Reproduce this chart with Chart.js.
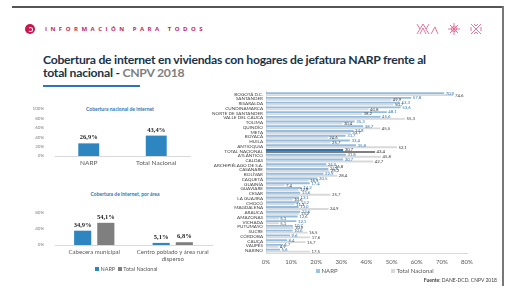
<!DOCTYPE html>
<html lang="es">
<head>
<meta charset="UTF-8">
<title>Cobertura de internet NARP</title>
<script src="https://cdn.jsdelivr.net/npm/chart.js"></script>
<style>
  body { margin: 0; background: #fff; font-family: Lato, "Open Sans", sans-serif; }
  #lienzo { position: relative; width: 521px; height: 294px; overflow: hidden; background: #fff; }
  .abs { position: absolute; }
  #barraTop { left: 12px; top: 6px; width: 491px; height: 2px; background: #555; }
  #bordeDer { left: 502px; top: 6px; width: 1.5px; height: 280px; background: #777; }
  #logo { left: 25px; top: 24px; width: 10px; height: 10px; border-radius: 50%; background: #c8174f; }
  #logo:after { content: ""; position: absolute; left: 2.5px; top: 2.5px; width: 3px; height: 3px; border: 1px solid #fff; border-radius: 50%; border-left-color: transparent; }
  #lema { left: 45px; top: 25px; font-size: 6px; font-weight: bold; letter-spacing: 3.5px; color: #c41e5b; font-family: "Open Sans", sans-serif; white-space: nowrap; }
  #titulo { left: 43px; top: 53px; font-size: 12.2px; letter-spacing: -0.25px; font-weight: bold; color: #1a3348; line-height: 13px; white-space: nowrap; }
  #titulo span { color: #7f7f7f; }
  #subraya { left: 43px; top: 85px; width: 97px; height: 2px; background: #2e75b6; }
  .subt { font-size: 5px; font-weight: bold; color: #2e75b6; white-space: nowrap; transform: translateX(-50%); }
  .leyenda { font-size: 5.5px; color: #595959; white-space: nowrap; }
  .leyenda i { display: inline-block; width: 4px; height: 4px; margin: 0 1.5px 0 0; vertical-align: -0.3px; }
  #fuente { right: 24px; top: 277px; font-size: 5px; color: #404040; white-space: nowrap; }
  canvas { position: absolute; }
</style>
</head>
<body>
<div id="lienzo">
  <div class="abs" id="barraTop"></div>
  <div class="abs" id="bordeDer"></div>
  <div class="abs" id="logo"></div>
  <div class="abs" id="lema">INFORMACIÓN PARA TODOS</div>
  <svg class="abs" style="left:415px;top:23px" width="80" height="12" viewBox="0 0 80 12">
    <g stroke="#d9437a" stroke-width="0.9" fill="none" opacity="0.8">
      <path d="M2 11 L8 1 L14 11 M5 11 L8 5 L11 11 M2 1 L5 6 M14 1 L11 6 M16 11 L20 4 L23 11"/>
      <circle cx="39" cy="6" r="2.5"/>
      <path d="M39 0 V12 M33 6 H45 M35 2 L43 10 M43 2 L35 10"/>
      <path d="M56 1 L66 11 M66 1 L56 11 M59 1 L61 3 L63 1 M59 11 L61 9 L63 11 M56 4 L56 8 M66 4 L66 8"/>
    </g>
  </svg>
  <div class="abs" id="titulo">Cobertura de internet en viviendas con hogares de jefatura NARP frente al<br>total nacional - <span>CNPV 2018</span></div>
  <div class="abs" id="subraya"></div>

  <div class="abs subt" style="left:120px;top:106px">Cobertura nacional de internet</div>
  <canvas id="graficoNacional" width="175" height="70" style="left:30px;top:100px"></canvas>

  <div class="abs subt" style="left:125px;top:191px">Cobertura de internet, por área</div>
  <canvas id="graficoArea" width="190" height="69" style="left:30px;top:198px"></canvas>
  <div class="abs leyenda" style="left:95px;top:266px"><i style="background:#2e86c1"></i>NARP&nbsp;&nbsp;<i style="background:#7f7f7f"></i>Total Nacional</div>

  <canvas id="graficoDeptos" width="290" height="179" style="left:200px;top:86px"></canvas>
  <div class="abs leyenda" style="left:316px;top:267px;font-size:6px"><i style="background:#9dc3e6"></i>NARP</div>
  <div class="abs leyenda" style="left:391px;top:267px;font-size:6px"><i style="background:#d9d9d9"></i>Total Nacional</div>
  <div class="abs" id="fuente"><b>Fuente:</b> DANE-DCD. CNPV 2018</div>
</div>

<script>
    // datos - cobertura nacional
    const nacionalCats = ['NARP', 'Total Nacional'];
    const nacionalVals = [26.9, 43.4];

    // datos - por area
    const areaCats = [['Cabecera municipal'], ['Centro poblado y área rural', 'disperso']];
    const areaNarp = [34.9, 5.1];
    const areaTotal = [54.1, 6.8];

    // datos - departamentos
    const deptos = ['BOGOTÁ D.C.', 'SANTANDER', 'RISARALDA', 'CUNDINAMARCA', 'NORTE DE SANTANDER',
        'VALLE DEL CAUCA', 'TOLIMA', 'QUINDÍO', 'META', 'BOYACÁ', 'HUILA', 'ANTIOQUIA',
        'TOTAL NACIONAL', 'ATLÁNTICO', 'CALDAS', 'ARCHIPIÉLAGO DE S.A.', 'CASANARE', 'BOLÍVAR',
        'CAQUETÁ', 'GUAINÍA', 'GUAVIARE', 'CESAR', 'LA GUAJIRA', 'CHOCÓ', 'MAGDALENA', 'ARAUCA',
        'AMAZONAS', 'VICHADA', 'PUTUMAYO', 'SUCRE', 'CÓRDOBA', 'CAUCA', 'VAUPÉS', 'NARIÑO'];
    const deptosNarp = [70.9, 57.8, 53.3, 53.6, 48.1, 45.6, 35.3, 38.7, 34.8, 31.7, 33.4, 35.8,
        30.7, 31.8, 30.7, 24.0, 24.8, 22.9, 20.5, 17.4, 14.2, 13.6, 13.1, 13.2, 13.0, 13.6,
        12.6, 12.1, 10.7, 10.6, 9.6, 8.4, 6.7, 5.6];
    const deptosTotal = [74.6, 49.9, 50.7, 40.8, 38.2, 55.3, 30.4, 45.5, 33.7, 24.6, 25.7, 52.1,
        43.4, 45.8, 42.7, 26.8, 25.2, 28.4, 16.9, 7.4, 12.9, 25.7, 10.6, 11.3, 24.9, 13.2,
        5.1, 5.1, 10.9, 16.5, 17.6, 15.7, 4.9, 17.5];
    const ticksPct = [0, 10, 20, 30, 40, 50, 60, 70, 80];

    function coma(v) {
        return v.toFixed(1).replace('.', ',');
    }

    // plugin para escribir los valores en las barras
    const etiquetas = {
        id: 'etiquetas',
        afterDatasetsDraw(chart, args, opts) {
            const ctx = chart.ctx;
            ctx.save();
            chart.data.datasets.forEach(function (ds, i) {
                const meta = chart.getDatasetMeta(i);
                meta.data.forEach(function (bar, j) {
                    const v = ds.data[j];
                    ctx.font = opts.font;
                    if (opts.horizontal) {
                        const destacado = chart.data.labels[j] == 'TOTAL NACIONAL';
                        ctx.fillStyle = destacado ? '#262626' : opts.colores[i];
                        ctx.textAlign = 'left';
                        ctx.textBaseline = 'middle';
                        ctx.fillText(coma(v), bar.x + 1.5, bar.y);
                    } else {
                        ctx.fillStyle = '#262626';
                        ctx.textAlign = 'center';
                        ctx.textBaseline = 'bottom';
                        ctx.fillText(coma(v) + '%', bar.x, bar.y - 2.5);
                    }
                });
            });
            ctx.restore();
        }
    };

    function ejeY() {
        return {
            min: 0, max: 100,
            ticks: { stepSize: 20, callback: v => v + '%', font: { size: 4.5, family: 'Lato' }, color: '#7f7f7f', padding: 3 },
            grid: { display: false },
            border: { display: false },
            afterFit(s) { s.width = 25; }
        };
    }

    function ejeX(alto, tam) {
        return {
            ticks: { font: { size: tam, family: 'Lato' }, color: '#595959', padding: 3, autoSkip: false, maxRotation: 0 },
            grid: { display: false, drawTicks: false },
            border: { color: '#d9d9d9' },
            afterFit(s) { s.height = alto; }
        };
    }

    const comunes = {
        responsive: false,
        animation: false,
        plugins: { legend: { display: false }, tooltip: { enabled: false } }
    };

    new Chart(document.getElementById('graficoNacional'), {
        type: 'bar',
        data: {
            labels: nacionalCats,
            datasets: [{ data: nacionalVals, backgroundColor: '#2e86c1', barPercentage: 0.31, categoryPercentage: 1 }]
        },
        options: Object.assign({}, comunes, {
            layout: { padding: { top: 9, right: 15 } },
            scales: { x: ejeX(14, 6.5), y: ejeY() },
            plugins: Object.assign({}, comunes.plugins, {
                etiquetas: { font: 'bold 6.5px "Liberation Serif"' }
            })
        }),
        plugins: [etiquetas]
    });

    new Chart(document.getElementById('graficoArea'), {
        type: 'bar',
        data: {
            labels: areaCats,
            datasets: [
                { label: 'NARP', data: areaNarp, backgroundColor: '#2e86c1', barPercentage: 0.74, categoryPercentage: 0.59 },
                { label: 'Total Nacional', data: areaTotal, backgroundColor: '#7f7f7f', barPercentage: 0.74, categoryPercentage: 0.59 }
            ]
        },
        options: Object.assign({}, comunes, {
            layout: { padding: { top: 6, right: 8 } },
            scales: { x: ejeX(22, 6), y: ejeY() },
            plugins: Object.assign({}, comunes.plugins, {
                etiquetas: { font: 'bold 6.5px "Liberation Serif"' }
            })
        }),
        plugins: [etiquetas]
    });

    function colorFila(normal, fuerte) {
        return function (c) {
            return deptos[c.dataIndex] == 'TOTAL NACIONAL' ? fuerte : normal;
        };
    }

    new Chart(document.getElementById('graficoDeptos'), {
        type: 'bar',
        data: {
            labels: deptos,
            datasets: [
                { label: 'NARP', data: deptosNarp, backgroundColor: colorFila('#92bde2', '#2e75b6'), barPercentage: 0.95, categoryPercentage: 0.85 },
                { label: 'Total Nacional', data: deptosTotal, backgroundColor: colorFila('#d9d9d9', '#7f7f7f'), barPercentage: 0.95, categoryPercentage: 0.85 }
            ]
        },
        options: Object.assign({}, comunes, {
            indexAxis: 'y',
            layout: { padding: { top: 2.6, right: 23 } },
            scales: {
                x: {
                    min: 0, max: 80,
                    afterBuildTicks(s) { s.ticks = ticksPct.map(v => ({ value: v })); },
                    ticks: { callback: v => v + '%', font: { size: 6, family: 'Lato' }, color: '#595959', padding: 5 },
                    grid: { display: false, drawTicks: false },
                    border: { color: '#d9d9d9' },
                    afterFit(s) { s.height = 12; }
                },
                y: {
                    ticks: { font: { size: 4.6, family: 'Lato' }, color: '#404040', autoSkip: false, padding: 3 },
                    grid: { display: false, drawTicks: false },
                    border: { color: '#d9d9d9' },
                    afterFit(s) { s.width = 66; }
                }
            },
            plugins: Object.assign({}, comunes.plugins, {
                etiquetas: { horizontal: true, font: '4.3px Lato', colores: ['#2e75b6', '#404040'] }
            })
        }),
        plugins: [etiquetas]
    });
</script>
</body>
</html>
